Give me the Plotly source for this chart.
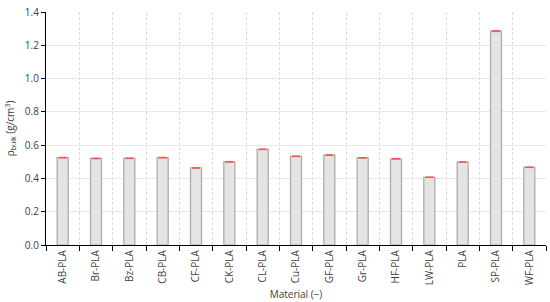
import plotly.graph_objects as go

# Dados do gráfico
materiais = ['AB-PLA', 'Br-PLA', 'Bz-PLA', 'CB-PLA', 'CF-PLA', 'CK-PLA', 'CL-PLA', 'Cu-PLA',
             'GF-PLA', 'Gr-PLA', 'HF-PLA', 'LW-PLA', 'PLA', 'SP-PLA', 'WF-PLA']
densidade = [0.525, 0.520, 0.521, 0.525, 0.463, 0.500, 0.575, 0.533,
             0.540, 0.524, 0.518, 0.407, 0.498, 1.285, 0.467]
erro = [0.002, 0.002, 0.002, 0.002, 0.002, 0.002, 0.002, 0.002,
        0.002, 0.002, 0.002, 0.002, 0.002, 0.003, 0.002]

fig = go.Figure()

fig.add_trace(go.Bar(
    x=materiais,
    y=densidade,
    width=0.33,
    marker=dict(color='#e4e4e4', line=dict(color='#a8a8a8', width=1.2)),
    error_y=dict(type='data', array=erro, color='#ff5050', thickness=1, width=4),
))

fig.update_layout(
    width=550, height=302,
    margin=dict(t=8, b=57, l=46, r=4),
    paper_bgcolor='white',
    plot_bgcolor='white',
    showlegend=False,
    font=dict(family='Open Sans', size=10, color='#404040'),
)

fig.update_xaxes(
    tickson='boundaries',
    ticks='outside', ticklen=5, tickcolor='black',
    tickangle=-90,
    tickfont=dict(size=10),
    showline=True, linecolor='black', linewidth=1.2,
    showgrid=True, gridcolor='#dcdcdc', griddash='3px,2px', gridwidth=1,
    title=dict(text='Material (\u2212)', font=dict(size=10), standoff=6),
)

fig.update_yaxes(
    range=[0, 1.4], dtick=0.2, tickformat='.1f',
    ticks='outside', ticklen=4, tickcolor='black',
    showline=True, linecolor='black', linewidth=1.2,
    showgrid=True, gridcolor='#e6e6e6', gridwidth=1,
    zeroline=False,
    title=dict(text='\u03c1<sub>bulk</sub> (g/cm<sup>3</sup>)', font=dict(size=10), standoff=8),
)

# remove a margem padrão do body para alinhar com a janela
fig.write_html('out.html', config={'displayModeBar': False},
               post_script="document.body.style.margin='0';")
